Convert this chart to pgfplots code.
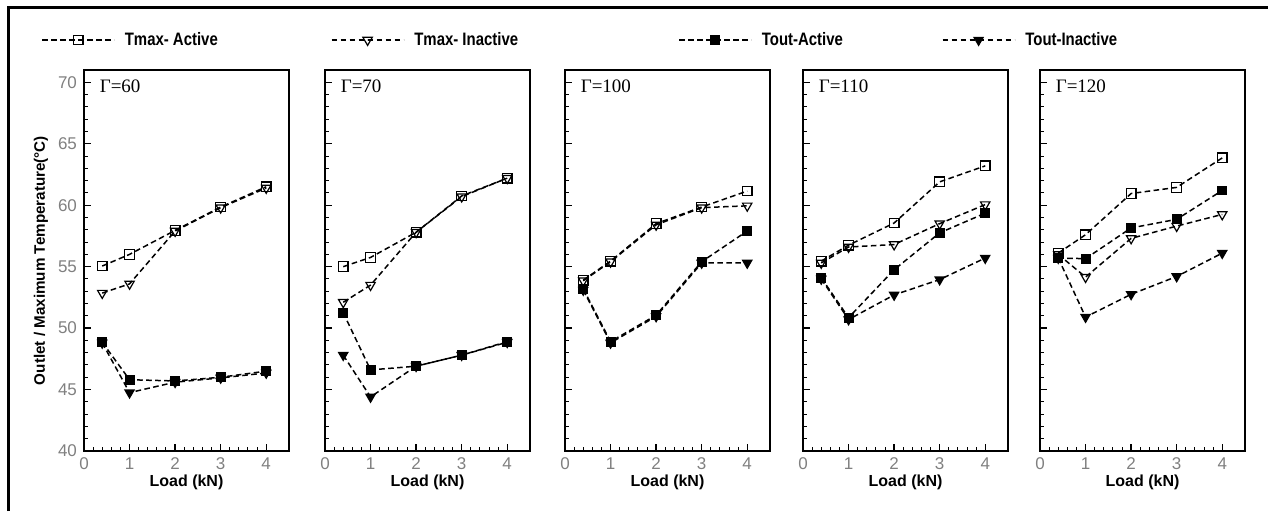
\documentclass[border=0pt]{standalone}
\usepackage{pgfplots}
\pgfplotsset{compat=1.18}
\usepackage{fontspec}
\setmainfont{Liberation Sans}
\newfontfamily\gammafont{Liberation Serif}
\newfontfamily\narrowfont[FakeStretch=0.83]{Liberation Sans}

\pgfplotsset{
  panel/.style={
    scale only axis, width=102.5pt, height=190.5pt,
    anchor=south west,
    xmin=0, xmax=4.5, ymin=40, ymax=71,
    xtick={0,1,2,3,4}, ytick={40,45,...,70},
    minor x tick num=4, minor y tick num=4,
    tick align=inside, xtick pos=bottom, ytick pos=left,
    major tick length=3.5pt, minor tick length=2pt,
    axis line style={line width=1pt},
    major tick style={black, line width=0.7pt},
    minor tick style={black, line width=0.5pt},
    tick label style={font=\fontsize{8.5}{9}\selectfont, text=black!50},
    /pgf/number format/assume math mode=true,
    xlabel={Load (kN)},
    xlabel style={font=\bfseries\fontsize{8}{9}\selectfont,
      at={(axis description cs:0.5,0)}, anchor=center, yshift=-15.5pt},
  },
  noy/.style={yticklabels={}},
  ser/.style={black, line width=0.75pt, dash pattern=on 2.8pt off 1.7pt},
  ta/.style={ser, mark=square, mark size=2.4pt, mark options={solid, line width=0.6pt}},
  ti/.style={ser, mark=triangle, mark size=2.7pt, mark options={solid, rotate=180, line width=0.6pt}},
  oa/.style={ser, mark=square*, mark size=2.1pt, mark options={solid}},
  oi/.style={ser, mark=triangle*, mark size=2.5pt, mark options={solid, rotate=180}},
}

\newcommand{\gam}[1]{\node[anchor=west, inner sep=0pt, font=\gammafont\fontsize{9.5}{10}\selectfont]
  at (rel axis cs:0.075,0.958) {Γ=#1};}

\begin{document}
\begin{tikzpicture}
\useasboundingbox (0,0) rectangle (634pt,255.5pt);
\draw[line width=1.5pt] (4pt,0pt) -- (4pt,252pt) -- (634pt,252pt);

% Gamma = 60
\begin{axis}[panel, at={(42pt,30pt)},
  ylabel={Outlet / Maximum Temperature(°C)},
  ylabel style={font=\bfseries\fontsize{7.6}{9}\selectfont,
    at={(axis description cs:-0.21,0.5)}, anchor=center},
  legend columns=4, legend cell align=left,
  legend image code/.code={\draw[mark repeat=2, mark phase=2, #1]
    plot coordinates {(0pt,0pt) (18pt,0pt) (36pt,0pt)};},
  legend style={at={(axis description cs:-0.21,1.0787)}, anchor=west,
    draw=none, fill=none, inner sep=0pt, nodes={inner sep=0pt},
    font=\narrowfont\bfseries\fontsize{9}{10}\selectfont,
    /tikz/every odd column/.style={column sep=5pt},
    /tikz/every even column/.style={column sep=0pt}},
]
\addplot[ta] coordinates {(0.4,55.05)(1,56.0)(2,57.95)(3,59.85)(4,61.5)};
\addlegendentry{\makebox[103pt][l]{Tmax- Active}}
\addplot[ti] coordinates {(0.4,52.85)(1,53.6)(2,57.9)(3,59.8)(4,61.4)};
\addlegendentry{\makebox[132pt][l]{Tmax- Inactive}}
\addplot[oa] coordinates {(0.4,48.85)(1,45.8)(2,45.7)(3,46.0)(4,46.5)};
\addlegendentry{\makebox[90pt][l]{Tout-Active}}
\addplot[oi] coordinates {(0.4,48.8)(1,44.75)(2,45.6)(3,45.95)(4,46.35)};
\addlegendentry{\makebox[60pt][l]{Tout-Inactive}}
\gam{60}
\end{axis}

% Gamma = 70
\begin{axis}[panel, noy, at={(162.5pt,30pt)}]
\addplot[ta] coordinates {(0.4,55.0)(1,55.75)(2,57.8)(3,60.75)(4,62.2)};
\addplot[ti] coordinates {(0.4,52.1)(1,53.5)(2,57.8)(3,60.7)(4,62.2)};
\addplot[oa] coordinates {(0.4,51.25)(1,46.6)(2,46.9)(3,47.8)(4,48.9)};
\addplot[oi] coordinates {(0.4,47.8)(1,44.4)(2,46.9)(3,47.8)(4,48.85)};
\gam{70}
\end{axis}

% Gamma = 100
\begin{axis}[panel, noy, at={(282.5pt,30pt)}]
\addplot[ta] coordinates {(0.4,53.9)(1,55.45)(2,58.5)(3,59.85)(4,61.15)};
\addplot[ti] coordinates {(0.4,53.85)(1,55.4)(2,58.4)(3,59.8)(4,59.95)};
\addplot[oa] coordinates {(0.4,53.2)(1,48.9)(2,51.05)(3,55.4)(4,57.9)};
\addplot[oi] coordinates {(0.4,53.1)(1,48.8)(2,50.95)(3,55.3)(4,55.3)};
\gam{100}
\end{axis}

% Gamma = 110
\begin{axis}[panel, noy, at={(401.5pt,30pt)}]
\addplot[ta] coordinates {(0.4,55.45)(1,56.75)(2,58.55)(3,61.9)(4,63.2)};
\addplot[ti] coordinates {(0.4,55.3)(1,56.6)(2,56.8)(3,58.5)(4,60.05)};
\addplot[oa] coordinates {(0.4,54.1)(1,50.85)(2,54.75)(3,57.75)(4,59.35)};
\addplot[oi] coordinates {(0.4,54.0)(1,50.7)(2,52.7)(3,53.95)(4,55.7)};
\gam{110}
\end{axis}

% Gamma = 120
\begin{axis}[panel, noy, at={(520pt,30pt)}]
\addplot[ta] coordinates {(0.4,56.1)(1,57.6)(2,60.95)(3,61.45)(4,63.85)};
\addplot[ti] coordinates {(0.4,56.0)(1,54.15)(2,57.3)(3,58.3)(4,59.25)};
\addplot[oa] coordinates {(0.4,55.7)(1,55.65)(2,58.15)(3,58.85)(4,61.2)};
\addplot[oi] coordinates {(0.4,55.7)(1,50.9)(2,52.75)(3,54.2)(4,56.1)};
\gam{120}
\end{axis}
\end{tikzpicture}
\end{document}
